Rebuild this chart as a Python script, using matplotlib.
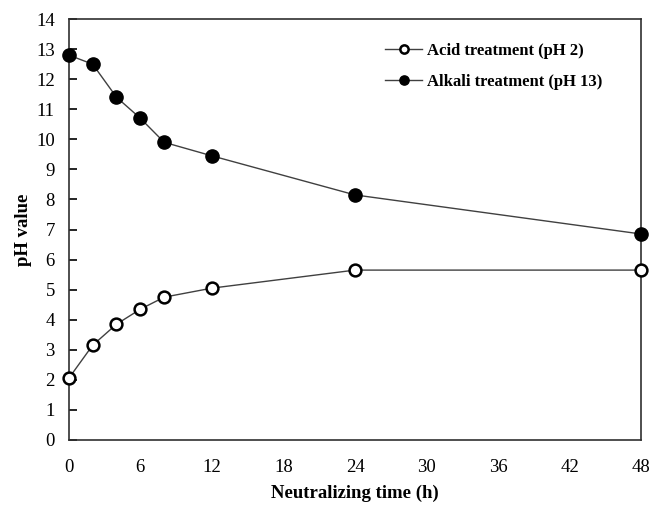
import matplotlib
matplotlib.use('Agg')
import matplotlib.pyplot as plt

# neutralizing time (h)
time_h = [0, 2, 4, 6, 8, 12, 24, 48]
acid_ph = [2.05, 3.15, 3.85, 4.35, 4.75, 5.05, 5.65, 5.65]
alkali_ph = [12.8, 12.5, 11.4, 10.7, 9.9, 9.45, 8.15, 6.85]
x_ticks = [0, 6, 12, 18, 24, 30, 36, 42, 48]
y_ticks = list(range(0, 15))

plt.rcParams['font.family'] = ['Liberation Serif', 'DejaVu Serif']

fig = plt.figure(figsize=(6.55, 5.09), dpi=100)
ax = fig.add_axes([0.105, 0.1356, 0.874, 0.827])

line_col = '#404040'
ax.plot(time_h, acid_ph, '-o', color=line_col, lw=1.0, ms=8.5,
        mfc='white', mec='black', mew=1.8, label='Acid treatment (pH 2)', clip_on=False, zorder=3)
ax.plot(time_h, alkali_ph, '-o', color=line_col, lw=1.0, ms=9.5,
        mfc='black', mec='black', mew=1.0, label='Alkali treatment (pH 13)', clip_on=False, zorder=3)

ax.set_xlim(0, 48)
ax.set_ylim(0, 14)
ax.set_xticks(x_ticks)
ax.set_yticks(y_ticks)
ax.tick_params(axis='x', length=0, pad=14, labelsize=13.5)
ax.tick_params(axis='y', direction='in', length=6, width=1.2, pad=10, labelsize=13.5)
for s in ax.spines.values():
    s.set_linewidth(1.2)
    s.set_color('#303030')

ax.set_xlabel('Neutralizing time (h)', fontsize=13.5, fontweight='bold', labelpad=6)
ax.set_ylabel('pH value', fontsize=13.5, fontweight='bold', labelpad=3)

leg = ax.legend(loc='upper left', bbox_to_anchor=(0.527, 0.978), frameon=False,
                prop={'weight': 'bold', 'size': 12}, handlelength=2.2, markerscale=0.7,
                handletextpad=0.3, labelspacing=0.9)

fig.savefig('out.png', dpi=100)
